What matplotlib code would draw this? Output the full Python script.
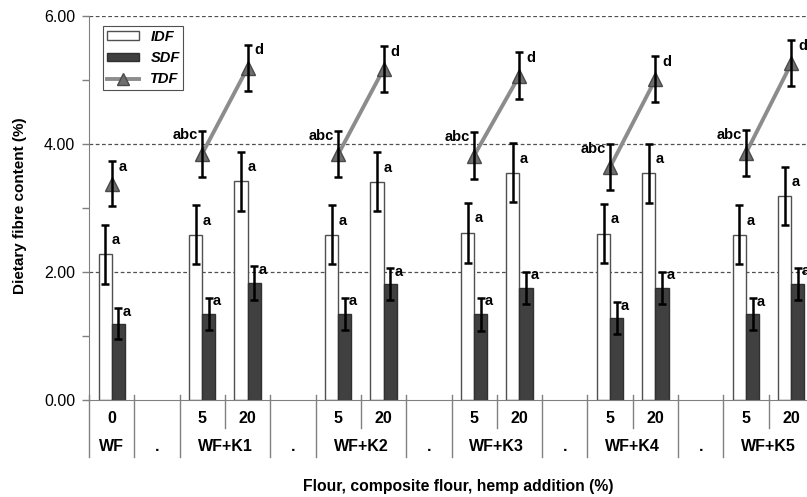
import matplotlib
matplotlib.use("Agg")
import matplotlib.pyplot as plt
import matplotlib.transforms as mtransforms
from matplotlib.lines import Line2D
from matplotlib.patches import Patch

plt.rcParams['font.family'] = ['Liberation Sans', 'DejaVu Sans']

# x-axis groups ("." = empty spacer group) and their sub-categories
groups = ["WF", ".", "WF+K1", ".", "WF+K2", ".", "WF+K3", ".", "WF+K4", ".", "WF+K5"]
group_subs = [["0"], [""], ["5", "20"], [""], ["5", "20"], [""], ["5", "20"],
              [""], ["5", "20"], [""], ["5", "20"]]

# one value per sample: WF 0, then K1..K5 at 5 and 20 %
idf = [2.28, 2.58, 3.42, 2.58, 3.41, 2.61, 3.55, 2.60, 3.54, 2.58, 3.19]
idf_err = [0.46, 0.46, 0.46, 0.46, 0.46, 0.47, 0.46, 0.46, 0.46, 0.46, 0.45]
sdf = [1.19, 1.35, 1.83, 1.35, 1.81, 1.34, 1.75, 1.28, 1.75, 1.34, 1.82]
sdf_err = [0.24, 0.25, 0.26, 0.25, 0.25, 0.26, 0.25, 0.25, 0.25, 0.25, 0.25]
tdf = [3.38, 3.85, 5.19, 3.84, 5.17, 3.82, 5.07, 3.64, 5.01, 3.86, 5.26]
tdf_err = [0.35, 0.36, 0.36, 0.36, 0.36, 0.37, 0.36, 0.36, 0.36, 0.36, 0.36]
idf_letters = ["a"] * 11
sdf_letters = ["a"] * 11
tdf_letters = ["a", "abc", "d", "abc", "d", "abc", "d", "abc", "d", "abc", "d"]

W, H = 807, 497
fig = plt.figure(figsize=(W / 100, H / 100), dpi=100)
ax = fig.add_axes([89 / W, 97 / H, 725 / W, 384 / H])

# slot positions
x_samples = []
sample_grp = []
group_edges = [0]
sub_edges = []
slot = 0
for gi, subs in enumerate(groups):
    for k, s in enumerate(group_subs[gi]):
        if k > 0:
            sub_edges.append(slot)
        if s != "":
            x_samples.append(slot + 0.5)
            sample_grp.append(gi)
        slot += 1
    group_edges.append(slot)

w = 0.29
xi = [x - w / 2 for x in x_samples]
xs = [x + w / 2 for x in x_samples]
ax.bar(xi, idf, w, color="white", edgecolor="#505050", linewidth=1, zorder=2)
ax.bar(xs, sdf, w, color="#404040", edgecolor="#303030", linewidth=1, zorder=2)
eb = dict(fmt="none", ecolor="black", elinewidth=1.8, capsize=3, capthick=1.8, zorder=4)
ax.errorbar(xi, idf, yerr=idf_err, **eb)
ax.errorbar(xs, sdf, yerr=sdf_err, **eb)

# TDF lines within each group
for gi in sorted(set(sample_grp)):
    idx = [i for i, g in enumerate(sample_grp) if g == gi]
    ax.plot([x_samples[i] for i in idx], [tdf[i] for i in idx], color="#8c8c8c",
            lw=2.8, zorder=3)
ax.plot(x_samples, tdf, ls="none", marker="^", ms=10, mfc="#6e6e6e", mec="#4a4a4a",
        mew=1, zorder=4)
ax.errorbar(x_samples, tdf, yerr=tdf_err, **eb)

# significance letters
lt = dict(fontsize=10.5, fontweight="bold", textcoords="offset points", va="center")
for i, x in enumerate(x_samples):
    ax.annotate(idf_letters[i], (xi[i], idf[i] + idf_err[i]), xytext=(5, -11), ha="left", **lt)
    ax.annotate(sdf_letters[i], (xs[i], sdf[i] + sdf_err[i]), xytext=(3, -2.5), ha="left", **lt)
    if tdf_letters[i] == "abc":
        ax.annotate(tdf_letters[i], (x_samples[i], tdf[i] + tdf_err[i]), xytext=(-3, -3.5),
                    ha="right", **lt)
    else:
        ax.annotate(tdf_letters[i], (x_samples[i], tdf[i] + tdf_err[i]), xytext=(5, -4),
                    ha="left", **lt)

ax.set_xlim(0, slot)
ax.set_ylim(0, 6)
ax.set_yticks([0, 2, 4, 6])
ax.set_yticklabels(["0.00", "2.00", "4.00", "6.00"], fontsize=11.5)
ax.set_yticks([1, 3, 5], minor=True)
ax.tick_params(axis="y", which="both", length=5, width=1, color="#808080", pad=5)
ax.set_xticks([])
for y in [2, 4, 6]:
    ax.axhline(y, color="#505050", lw=0.9, ls=(0, (3, 2)), zorder=1)
for sp in ["top", "right"]:
    ax.spines[sp].set_visible(False)
ax.spines["left"].set_color("#808080")
ax.spines["bottom"].set_color("#808080")

# two-level category axis
tr = mtransforms.blended_transform_factory(ax.transData, ax.transAxes)
for e in group_edges:
    ax.plot([e, e], [0.013, -0.148], transform=tr, color="#808080", lw=1, clip_on=False)
for e in sub_edges:
    ax.plot([e, e], [0.013, -0.073], transform=tr, color="#808080", lw=1, clip_on=False)
slot = 0
for gi, g in enumerate(groups):
    subs = group_subs[gi]
    for s in subs:
        ax.text(slot + 0.5, -0.049, s, transform=tr, ha="center", va="center",
                fontsize=11.5, fontweight="bold")
        slot += 1
    ax.text(slot - len(subs) / 2, -0.122, g, transform=tr, ha="center", va="center",
            fontsize=11.5, fontweight="bold")

fig.text(458 / W, 1 - 487 / H, "Flour, composite flour, hemp addition (%)", ha="center",
         va="center", fontsize=11.3, fontweight="bold")
fig.text(20 / W, 1 - 206 / H, "Dietary fibre content (%)", ha="center", va="center",
         rotation=90, fontsize=11, fontweight="bold")

handles = [Patch(facecolor="white", edgecolor="#505050", label="IDF"),
           Patch(facecolor="#404040", edgecolor="#303030", label="SDF"),
           Line2D([], [], color="#8c8c8c", lw=2.8, marker="^", ms=8, mfc="#6e6e6e",
                  mec="#4a4a4a", label="TDF")]
leg = ax.legend(handles=handles, loc="upper left", bbox_to_anchor=(14 / 725, 1 - 10 / 384),
                borderaxespad=0, frameon=True, fancybox=False, edgecolor="#505050",
                framealpha=1, prop=dict(weight="bold", style="italic", size=10.5),
                handlelength=2.2, handleheight=0.5, labelspacing=0.5, borderpad=0.25,
                handletextpad=0.8)
leg.get_frame().set_linewidth(0.8)
leg.set_zorder(10)

fig.savefig("out.png", dpi=100)
